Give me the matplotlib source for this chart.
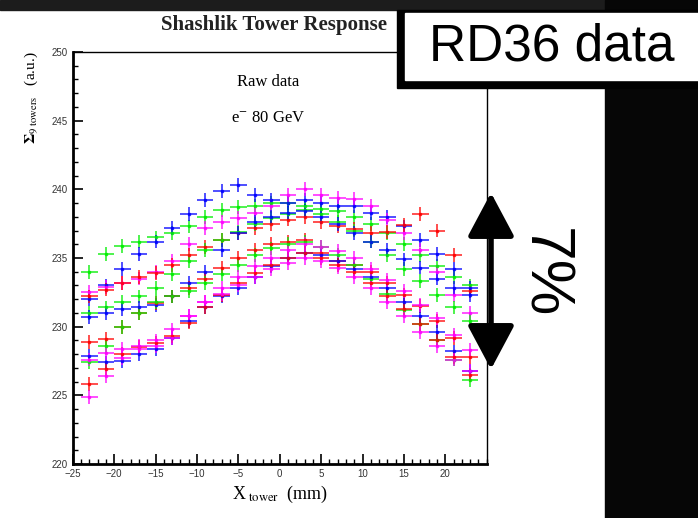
import numpy as np
import matplotlib
matplotlib.use("Agg")
import matplotlib.pyplot as plt
from matplotlib.patches import Rectangle, FancyArrowPatch
from matplotlib.ticker import MultipleLocator

plt.rcParams['mathtext.fontset'] = 'stix'

# scan positions (mm) and tower sums
x_tower = [-23, -21, -19, -17, -15, -13, -11, -9, -7, -5, -3, -1,
           1, 3, 5, 7, 9, 11, 13, 15, 17, 19, 21, 23]

# upper band
g1 = [234.0, 235.3, 235.9, 236.2, 236.5, 236.8, 237.3, 238.0, 238.5, 238.7, 238.8, 239.0,
      239.0, 238.8, 238.6, 238.4, 238.0, 237.5, 236.8, 236.0, 235.2, 234.4, 233.6, 233.0]
b1 = [232.0, 233.0, 234.2, 235.3, 236.2, 237.2, 238.2, 239.2, 239.9, 240.3, 239.6, 239.2,
      239.0, 239.2, 239.0, 238.8, 238.8, 238.3, 238.0, 237.3, 236.3, 235.3, 234.2, 232.8]
m1 = [232.5, 232.9, 233.2, 233.5, 234.0, 234.8, 236.0, 237.2, 237.6, 237.9, 238.3, 238.8,
      239.6, 240.0, 239.6, 239.4, 239.3, 238.8, 237.8, 236.8, 235.6, 234.0, 232.3, 231.0]
r1 = [232.2, 232.7, 233.2, 233.6, 233.9, 234.5, 235.2, 235.8, 236.3, 236.8, 237.2, 237.5,
      237.8, 238.0, 237.6, 237.3, 237.1, 236.8, 236.9, 237.4, 238.2, 237.0, 235.2, 232.6]
g2 = [231.0, 231.4, 231.8, 232.2, 232.8, 233.8, 234.8, 235.6, 236.3, 236.9, 237.5, 237.9,
      238.2, 238.5, 238.2, 237.6, 237.0, 236.2, 235.2, 234.2, 233.3, 232.3, 231.4, 230.4]
b2 = [230.7, 231.0, 231.3, 231.4, 231.6, 232.2, 233.2, 234.0, 235.6, 236.8, 237.6, 238.0,
      238.3, 238.4, 238.0, 237.5, 236.8, 236.2, 235.6, 234.9, 234.3, 233.5, 232.8, 232.3]
# lower band
r2 = [228.9, 229.1, 230.0, 231.0, 231.7, 232.2, 232.8, 233.5, 234.3, 235.0, 235.6, 236.0,
      236.2, 236.3, 235.4, 234.8, 234.5, 234.0, 233.2, 232.3, 231.5, 230.4, 229.2, 227.8]
g3 = [227.4, 228.6, 230.0, 231.0, 231.8, 232.2, 232.6, 233.2, 233.8, 234.5, 235.2, 235.7,
      236.0, 236.2, 235.8, 235.2, 234.5, 233.5, 232.4, 231.2, 230.2, 229.0, 227.6, 226.1]
b3 = [227.9, 227.4, 227.5, 228.0, 228.4, 229.2, 230.4, 231.4, 232.2, 232.8, 233.6, 234.4,
      235.0, 235.4, 235.2, 234.8, 234.2, 233.6, 232.8, 231.8, 230.8, 229.6, 228.2, 226.8]
r3 = [225.8, 226.9, 228.0, 228.5, 228.8, 229.3, 230.3, 231.4, 232.3, 233.2, 233.9, 234.5,
      235.0, 235.4, 235.0, 234.5, 234.0, 233.2, 232.2, 231.3, 230.2, 229.0, 227.8, 226.5]
m3 = [224.9, 226.4, 227.7, 228.4, 228.6, 229.2, 230.8, 231.8, 232.4, 233.0, 233.6, 234.2,
      234.6, 235.0, 234.8, 234.3, 233.6, 232.8, 231.8, 230.8, 229.6, 228.6, 227.6, 226.8]
m2 = [227.6, 228.1, 228.4, 228.6, 229.0, 229.8, 230.8, 231.8, 232.8, 233.6, 234.4, 235.0,
      235.6, 236.0, 235.8, 235.5, 235.0, 234.2, 233.4, 232.6, 231.6, 230.6, 229.4, 228.3]

series = [(g1, '#00ee00'), (b1, '#0000ff'), (m1, '#ff00ff'), (r1, '#ff0000'),
          (g2, '#00ee00'), (b2, '#0000ff'), (r2, '#ff0000'), (g3, '#00ee00'),
          (b3, '#0000ff'), (r3, '#ff0000'), (m3, '#ff00ff'), (m2, '#ff00ff')]

W, H = 698, 518


def fx(x):
    return x / W


def fy(y):
    return 1 - y / H


fig = plt.figure(figsize=(W / 100, H / 100), dpi=100)
fig.patch.set_facecolor('white')

# slide background pieces
fig.add_artist(Rectangle((0, fy(10)), 1, 10 / H, transform=fig.transFigure,
                         color='#1c1c1c', zorder=0))
fig.add_artist(Rectangle((fx(605), 0), 1 - fx(605), 1, transform=fig.transFigure,
                         color='#060606', zorder=0))

ax = fig.add_axes([fx(72.7), fy(464), (486.7 - 72.7) / W, (464 - 52) / H])
ax.set_xlim(-25, 25)
ax.set_ylim(220, 250)

for vals, col in series:
    ax.errorbar(x_tower, vals, xerr=1.0, yerr=0.5, fmt='s', ms=1.6,
                color=col, ecolor=col, elinewidth=1.3, capsize=0, alpha=0.75)

ax.xaxis.set_major_locator(MultipleLocator(5))
ax.xaxis.set_minor_locator(MultipleLocator(1))
ax.yaxis.set_major_locator(MultipleLocator(5))
ax.yaxis.set_minor_locator(MultipleLocator(1))
ax.set_xticks([-25, -20, -15, -10, -5, 0, 5, 10, 15, 20])
ax.tick_params(which='both', direction='in', top=False, right=False,
               labelsize=7, labelcolor='#333333')
ax.tick_params(which='major', length=7, width=1.2)
ax.tick_params(which='minor', length=3.5, width=1)
for lab in ax.get_xticklabels() + ax.get_yticklabels():
    lab.set_family('Liberation Sans')
ax.spines['left'].set_linewidth(2)
ax.spines['bottom'].set_linewidth(2)
ax.spines['right'].set_linewidth(1)
ax.spines['top'].set_linewidth(1)

serif = 'Liberation Serif'
fig.text(fx(274), fy(25), 'Shashlik Tower Response', ha='center', va='center',
         family=serif, weight='bold', fontsize=15, color='#222222')
fig.text(fx(268), fy(82), 'Raw data', ha='center', va='center', family=serif, fontsize=12)
fig.text(fx(268), fy(118), r'e$^{-}$ 80 GeV', ha='center', va='center', family=serif, fontsize=12)
fig.text(fx(280), fy(494), r'X$_{\rm\ tower}$  (mm)', ha='center', va='center',
         family=serif, fontsize=13)
fig.text(fx(31), fy(98), r'$\mathbf{\Sigma}_{9\ \rm towers}$   (a.u.)', ha='center', va='center',
         rotation=90, family=serif, fontsize=11)

# annotation box
fig.add_artist(Rectangle((fx(397), fy(88)), 1 - fx(397), 78 / H, transform=fig.transFigure,
                         color='black', zorder=5))
fig.add_artist(Rectangle((fx(405), fy(80)), 1 - fx(405), 67 / H, transform=fig.transFigure,
                         color='white', zorder=6))
fig.text(fx(552), fy(47), 'RD36 data', ha='center', va='center', family='Liberation Sans',
         fontsize=37, zorder=7)

arrow = FancyArrowPatch((fx(491), fy(372)), (fx(491), fy(190)), transform=fig.transFigure,
                        arrowstyle='<|-|>,head_length=1.5,head_width=0.8',
                        mutation_scale=18, lw=4, color='black', zorder=7)
fig.add_artist(arrow)
fig.text(fx(544), fy(273), '7%', ha='center', va='center', rotation=-90,
         family='Liberation Sans', fontsize=45, zorder=7)

fig.savefig('out.png', dpi=100)
